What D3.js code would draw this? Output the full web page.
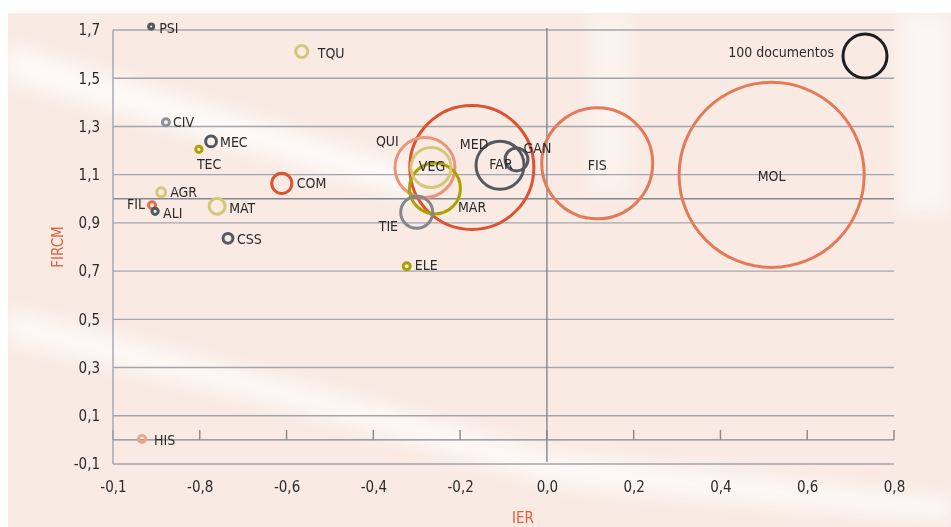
<!DOCTYPE html>
<html>
  <head>
    <meta charset="utf-8">
    <title>IER vs FIRCM</title>
    <script src="https://cdn.jsdelivr.net/npm/d3@7"></script>
    <style>
      body { margin: 0; background: #fff; }
      text { font-family: "DejaVu Sans Condensed", "Liberation Sans Narrow", sans-serif; }
    </style>
  </head>
  <body>
    <div id="chart"></div>

    <script>
      // Areas, IER (x), FIRCM (y) and number of documents (bubble area)
      const areas = ['MOL', 'MED', 'FIS', 'QUI', 'MAR', 'FAR', 'VEG', 'TIE', 'GAN', 'COM', 'MAT',
                     'TQU', 'MEC', 'CSS', 'AGR', 'CIV', 'FIL', 'HIS', 'ELE', 'TEC', 'ALI', 'PSI'];
      const ier = [0.518, -0.173, 0.116, -0.281, -0.258, -0.108, -0.267, -0.300, -0.070, -0.611, -0.760,
                   -0.565, -0.774, -0.735, -0.889, -0.878, -0.910, -0.933, -0.323, -0.802, -0.903, -0.912];
      const fircm = [1.099, 1.130, 1.147, 1.130, 1.043, 1.139, 1.130, 0.944, 1.163, 1.064, 0.969,
                     1.611, 1.238, 0.836, 1.027, 1.317, 0.973, 0.004, 0.720, 1.205, 0.948, 1.714];
      const docs = [1770, 795, 636, 186, 134, 119, 83, 53, 27, 21, 13,
                    7.4, 6, 5, 4, 2.5, 2.5, 2.5, 2.5, 2, 2, 1.3];

      const xTicks = [-1, -0.8, -0.6, -0.4, -0.2, 0, 0.2, 0.4, 0.6, 0.8];
      const xTickLabels = ['-0,1', '-0,8', '-0,6', '-0,4', '-0,2', '0,0', '0,2', '0,4', '0,6', '0,8'];
      const yTicks = [-0.1, 0.1, 0.3, 0.5, 0.7, 0.9, 1.1, 1.3, 1.5, 1.7];
      const yTickLabels = ['-0,1', '0,1', '0,3', '0,5', '0,7', '0,9', '1,1', '1,3', '1,5', '1,7'];
      const legendDocs = 100;

      // colours per area
      const colors = {
        MOL: '#e57a58', MED: '#dd5231', FIS: '#e57a58', QUI: '#eb9478', MAR: '#aba100',
        FAR: '#54585f', VEG: '#d3c877', TIE: '#83878d', GAN: '#54585f', COM: '#dd5231',
        MAT: '#d3c877', TQU: '#d3c877', MEC: '#54585f', CSS: '#54585f', AGR: '#d3c877',
        CIV: '#8d9197', FIL: '#e2704f', HIS: '#eca58a', ELE: '#aba100', TEC: '#aba100',
        ALI: '#54585f', PSI: '#54585f'
      };

      // label placement relative to bubble centre: [dx, dy, anchor]
      const labelPos = {
        MOL: [0, 2, 'middle'], MED: [-12, -22, 'start'], FIS: [0, 3, 'middle'],
        QUI: [-49, -25, 'start'], MAR: [23, 20, 'start'], FAR: [1, 0, 'middle'],
        VEG: [1, 0, 'middle'], TIE: [-38, 15, 'start'], GAN: [7, -10, 'start'],
        COM: [15, 1, 'start'], MAT: [12, 3, 'start'], TQU: [16, 3, 'start'],
        MEC: [9, 2, 'start'], CSS: [9, 2, 'start'], AGR: [9, 1, 'start'],
        CIV: [7, 1, 'start'], FIL: [-7, 0, 'end'], HIS: [12, 2, 'start'],
        ELE: [8, 0, 'start'], TEC: [-2, 16, 'start'], ALI: [8, 3, 'start'],
        PSI: [8, 2, 'start']
      };

      const width = 951, height = 527;
      const x = d3.scaleLinear().domain([-1, 0.8]).range([113, 894]);
      const y = d3.scaleLinear().domain([-0.1, 1.7]).range([464, 30]);
      const r = d3.scaleSqrt().domain([0, 100]).range([0, 22]);

      const svg = d3.select('#chart')
        .append('svg')
        .attr('width', width)
        .attr('height', height);

      // Background: pale peach with soft white streaks
      const defs = svg.append('defs');
      defs.append('filter').attr('id', 'blur')
        .attr('x', '-20%').attr('y', '-50%').attr('width', '140%').attr('height', '200%')
        .append('feGaussianBlur').attr('stdDeviation', 9);

      svg.append('rect')
        .attr('x', 8).attr('y', 13)
        .attr('width', width - 8).attr('height', height - 13)
        .attr('fill', '#f9ebe4');

      const bg = svg.append('g').attr('filter', 'url(#blur)');
      bg.append('path')
        .attr('d', 'M8,45 L420,170 L420,200 L8,80 Z')
        .attr('fill', '#ffffff').attr('opacity', 0.75);
      bg.append('path')
        .attr('d', 'M8,310 L300,385 L560,455 L951,500 L951,520 L560,485 L300,410 L8,340 Z')
        .attr('fill', '#ffffff').attr('opacity', 0.7);
      bg.append('rect')
        .attr('x', 590).attr('y', 13).attr('width', 40).attr('height', 180)
        .attr('fill', '#ffffff').attr('opacity', 0.4);
      bg.append('rect')
        .attr('x', 900).attr('y', 13).attr('width', 51).attr('height', 200)
        .attr('fill', '#ffffff').attr('opacity', 0.5);

      // Horizontal gridlines
      svg.append('g')
        .selectAll('line')
        .data(yTicks)
        .enter()
        .append('line')
        .attr('x1', x(-1)).attr('x2', x(0.8))
        .attr('y1', d => y(d)).attr('y2', d => y(d))
        .attr('stroke', '#a4a5ab')
        .attr('stroke-width', 1.4);

      // Reference lines: FIRCM = 1 and baseline 0
      svg.append('line')
        .attr('x1', x(-1)).attr('x2', x(0.8))
        .attr('y1', y(1)).attr('y2', y(1))
        .attr('stroke', '#86878d').attr('stroke-width', 1.4);
      svg.append('line')
        .attr('x1', x(-1)).attr('x2', x(0.8))
        .attr('y1', y(0)).attr('y2', y(0))
        .attr('stroke', '#86878d').attr('stroke-width', 1.4);

      // tick marks on the zero line
      svg.append('g')
        .selectAll('line')
        .data(xTicks)
        .enter()
        .append('line')
        .attr('x1', d => x(d)).attr('x2', d => x(d))
        .attr('y1', y(0)).attr('y2', y(0) - 10)
        .attr('stroke', '#86878d').attr('stroke-width', 1.4);

      // y axis line and IER = 0 line
      svg.append('line')
        .attr('x1', x(-1)).attr('x2', x(-1))
        .attr('y1', y(1.7)).attr('y2', y(-0.1))
        .attr('stroke', '#a4a5ab').attr('stroke-width', 1.4);
      svg.append('line')
        .attr('x1', x(0)).attr('x2', x(0))
        .attr('y1', y(1.7) - 2).attr('y2', y(-0.1) - 2)
        .attr('stroke', '#86878d').attr('stroke-width', 1.4);

      // Axes (labels only)
      const xAxis = svg.append('g')
        .attr('transform', `translate(0,${y(-0.1)})`)
        .call(d3.axisBottom(x).tickValues(xTicks).tickSize(0).tickPadding(17)
          .tickFormat((d, i) => xTickLabels[i]));
      const yAxis = svg.append('g')
        .attr('transform', `translate(${x(-1)},0)`)
        .call(d3.axisLeft(y).tickValues(yTicks).tickSize(0).tickPadding(13)
          .tickFormat((d, i) => yTickLabels[i]));
      [xAxis, yAxis].forEach(a => {
        a.select('.domain').remove();
        a.selectAll('text')
          .attr('font-size', 15)
          .attr('fill', '#2b2b2b')
          .style('font-family', '"DejaVu Sans Condensed", sans-serif');
      });

      // Axis titles
      svg.append('text')
        .text('IER')
        .attr('x', 523).attr('y', 523)
        .attr('text-anchor', 'middle')
        .attr('font-size', 15)
        .attr('fill', '#e0603c');
      svg.append('text')
        .text('FIRCM')
        .attr('transform', 'translate(63,247) rotate(-90)')
        .attr('text-anchor', 'middle')
        .attr('font-size', 15)
        .attr('fill', '#e0603c');

      // Bubbles
      const data = areas.map((name, i) => ({ name, x: ier[i], y: fircm[i], n: docs[i] }));

      svg.append('g')
        .selectAll('circle')
        .data(data)
        .enter()
        .append('circle')
        .attr('cx', d => x(d.x))
        .attr('cy', d => y(d.y))
        .attr('r', d => r(d.n))
        .attr('fill', 'none')
        .attr('stroke', d => colors[d.name])
        .attr('stroke-width', 3);

      // Labels
      svg.append('g')
        .selectAll('text')
        .data(data)
        .enter()
        .append('text')
        .text(d => d.name)
        .attr('x', d => x(d.x) + labelPos[d.name][0])
        .attr('y', d => y(d.y) + labelPos[d.name][1])
        .attr('text-anchor', d => labelPos[d.name][2])
        .attr('dominant-baseline', 'middle')
        .attr('font-size', 14)
        .attr('fill', '#2b2b2b');

      // Size legend
      svg.append('circle')
        .attr('cx', 865).attr('cy', 56)
        .attr('r', r(legendDocs))
        .attr('fill', 'none')
        .attr('stroke', '#1f1f1f')
        .attr('stroke-width', 3);
      svg.append('text')
        .text(legendDocs + ' documentos')
        .attr('x', 834).attr('y', 53)
        .attr('text-anchor', 'end')
        .attr('dominant-baseline', 'middle')
        .attr('font-size', 14)
        .attr('fill', '#2b2b2b');
    </script>
  </body>
</html>
